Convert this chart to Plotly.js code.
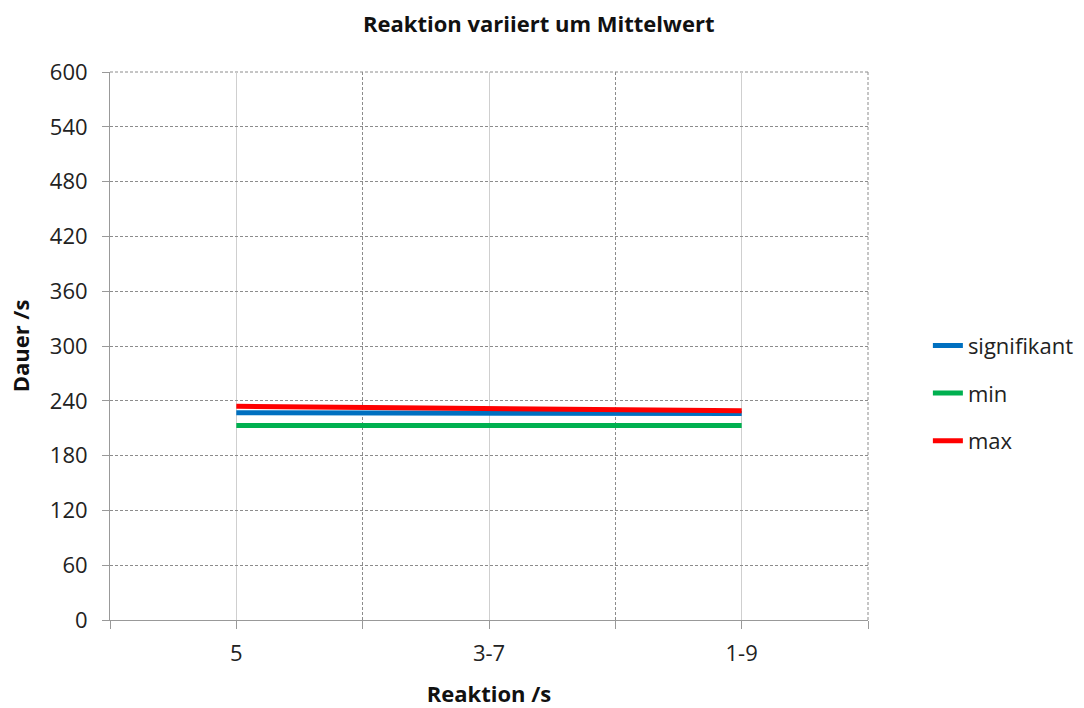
<!DOCTYPE html>
<html>
<head>
<meta charset="utf-8">
<script src="https://cdn.plot.ly/plotly-3.0.1.min.js"></script>
<style>html,body{margin:0;padding:0;background:#fff}#chart{width:1084px;height:708px}</style>
</head>
<body>
<div id="chart"></div>
<script>
const categories = ['5', '3-7', '1-9'];
const signifikant = [227, 227, 226];
const minVals = [213, 213, 213];
const maxVals = [234, 231.5, 229];
const yTicks = [0, 60, 120, 180, 240, 300, 360, 420, 480, 540, 600];

const xIdx = categories.map((c, i) => i);
const boundaries = [-0.5].concat(categories.map((c, i) => i + 0.5));

const font = 'Open Sans, Calibri, sans-serif';
const gridDash = '3px,2px';
const gridCol = '#8c8c8c';

const traces = [
  {name: 'signifikant', y: signifikant, color: '#0070C0'},
  {name: 'min', y: minVals, color: '#00B050'},
  {name: 'max', y: maxVals, color: '#FF0000'}
].map((t, k) => ({
  type: 'scatter', mode: 'lines', x: xIdx, y: t.y, name: t.name,
  legendgroup: 'g' + k,
  line: {color: t.color, width: 5}
}));

const layout = {
  width: 1084, height: 708,
  margin: {l: 110, r: 216, t: 72, b: 88, autoexpand: false},
  paper_bgcolor: '#fff', plot_bgcolor: '#fff',
  font: {family: font, color: '#222', size: 22},
  title: {text: '<b>Reaktion variiert um Mittelwert</b>', x: 0.497, xanchor: 'center', y: 0.965, yanchor: 'middle',
          font: {family: font, size: 22, color: '#111'}},
  showlegend: true,
  legend: {x: 1.079, xanchor: 'left', y: 0.414, yanchor: 'middle', tracegroupgap: 16,
           font: {family: font, size: 22, color: '#222'}, bgcolor: 'rgba(0,0,0,0)'},
  xaxis: {
    type: 'linear', range: [-0.5, categories.length - 0.5],
    tickmode: 'array', tickvals: xIdx, ticktext: categories,
    showgrid: true, gridcolor: '#cfcfcf', gridwidth: 1,
    ticks: 'outside', ticklen: 8, tickcolor: '#999', tickwidth: 1,
    showline: true, linecolor: '#999', linewidth: 1,
    zeroline: false, fixedrange: true,
    tickfont: {family: font, size: 22, color: '#222'},
    ticklabelstandoff: 6,
    minor: {tickmode: 'array', tickvals: boundaries, showgrid: true, gridcolor: gridCol,
            griddash: gridDash, gridwidth: 1, ticks: 'outside', ticklen: 8, tickcolor: '#999'},
    title: {text: '<b>Reaktion /s</b>', standoff: 22, font: {family: font, size: 22, color: '#111'}}
  },
  yaxis: {
    range: [0, 600], tickmode: 'array', tickvals: yTicks,
    showgrid: true, gridcolor: gridCol, griddash: gridDash, gridwidth: 1,
    ticks: 'outside', ticklen: 7, tickcolor: '#999',
    showline: true, linecolor: '#999', linewidth: 1,
    zeroline: false, fixedrange: true,
    tickfont: {family: font, size: 22, color: '#222'},
    ticklabelstandoff: 10,
    title: {text: '<b>Dauer /s</b>', standoff: 14, font: {family: font, size: 22, color: '#111'}}
  },
  shapes: [
    {type: 'line', xref: 'paper', yref: 'paper', x0: 0, x1: 1, y0: 1, y1: 1,
     line: {color: gridCol, width: 1, dash: gridDash}, layer: 'below'},
    {type: 'line', xref: 'paper', yref: 'paper', x0: 1, x1: 1, y0: 0, y1: 1,
     line: {color: gridCol, width: 1, dash: gridDash}, layer: 'below'}
  ]
};

Plotly.newPlot('chart', traces, layout, {displayModeBar: false, staticPlot: true});
</script>
</body>
</html>
